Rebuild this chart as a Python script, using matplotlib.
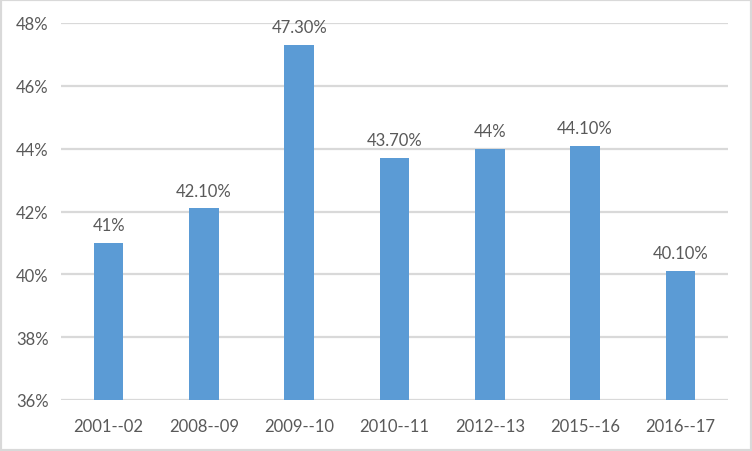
import matplotlib.pyplot as plt
from matplotlib.patches import Rectangle

categories = ["2001--02", "2008--09", "2009--10", "2010--11", "2012--13", "2015--16", "2016--17"]
values = [41.0, 42.1, 47.3, 43.7, 44.0, 44.1, 40.1]
labels = ["41%", "42.10%", "47.30%", "43.70%", "44%", "44.10%", "40.10%"]
yticks = [36, 38, 40, 42, 44, 46, 48]

plt.rcParams['font.family'] = ['Lato', 'DejaVu Sans']
txt = "#595959"
grid = "#d9d9d9"

fig = plt.figure(figsize=(7.52, 4.52), dpi=100)
ax = fig.add_axes([61/752, 1 - 401/452, (728 - 61)/752, (401 - 24)/452])

x = range(len(categories))
ax.bar(x, values, width=0.31, color="#5b9bd5", bottom=0, zorder=3)
for xi, v, lab in zip(x, values, labels):
    ax.annotate(lab, (xi, v), xytext=(0, 7), textcoords="offset points",
                ha="center", va="bottom", fontsize=12, color=txt)

ax.set_ylim(36, 48)
ax.set_xlim(-0.5, len(categories) - 0.5)
ax.set_yticks(yticks)
ax.set_yticklabels(["%d%%" % t for t in yticks])
ax.set_xticks(list(x))
ax.set_xticklabels(categories)
ax.tick_params(length=0, labelsize=12, labelcolor=txt)
ax.tick_params(axis="y", pad=9)
ax.tick_params(axis="x", pad=13)
ax.yaxis.grid(True, color=grid, linewidth=1.6, zorder=0)
for s in ax.spines.values():
    s.set_visible(False)

fig.patches.append(Rectangle((0, 0), 1, 1, transform=fig.transFigure,
                             fill=False, edgecolor=grid, linewidth=3))

fig.savefig("out.png", dpi=100)
